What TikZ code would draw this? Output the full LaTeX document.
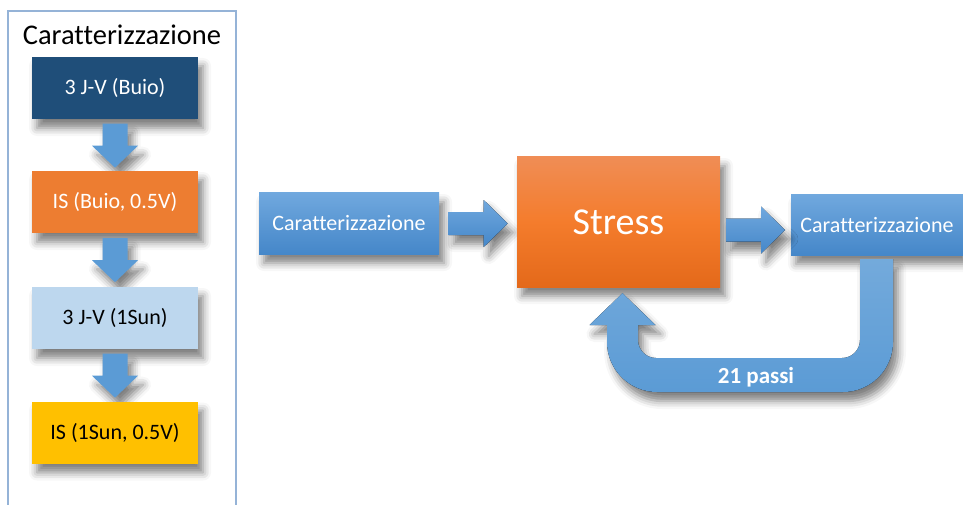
\documentclass[tikz,border=0pt]{standalone}
\usepackage{fontspec}
\setmainfont{Carlito}[Ligatures=NoCommon]
\usetikzlibrary{calc,shadows.blur}

\definecolor{darkblue}{HTML}{1F4E79}
\definecolor{orangebox}{HTML}{ED7D31}
\definecolor{paleblue}{HTML}{BDD7EE}
\definecolor{gold}{HTML}{FFC000}
\definecolor{arrowblue}{HTML}{5B9BD5}
\definecolor{bluetop}{HTML}{70A8DE}
\definecolor{bluebot}{HTML}{4587C9}
\definecolor{stresstop}{HTML}{F08D55}
\definecolor{stressmid}{HTML}{F47C2C}
\definecolor{stressbot}{HTML}{E4691A}
\definecolor{framecol}{HTML}{95B3D7}

\tikzset{
  softshadow/.style={blur shadow={shadow xshift=5pt, shadow yshift=-9pt,
      shadow blur radius=8pt, shadow opacity=50}},
  stepbox/.style={rectangle, inner sep=0pt, minimum width=166pt,
      minimum height=62pt, font=\fontsize{22}{26}\selectfont, softshadow},
  bluebox/.style={rectangle, inner sep=0pt, minimum height=61pt,
      top color=bluetop, bottom color=bluebot, text=white,
      font=\fontsize{22}{26}\selectfont, softshadow},
  % short vertical block arrow, origin at its centre
  varrow/.pic={
    \fill[arrowblue, softshadow] (-12.5,22) -- (12.5,22) -- (12.5,0)
      -- (23,0) -- (0,-22) -- (-23,0) -- (-12.5,0) -- cycle;
  },
  % horizontal block arrow, origin at its centre
  harrow/.pic={
    \fill[top color=bluetop, bottom color=bluebot, softshadow]
      (-29.5,11.5) -- (5.5,11.5) -- (5.5,23.5) -- (29.5,0)
      -- (5.5,-23.5) -- (5.5,-11.5) -- (-29.5,-11.5) -- cycle;
  },
}

\begin{document}
\begin{tikzpicture}[x=1pt,y=1pt]
\useasboundingbox (0,0) rectangle (963,-505);

% left panel: characterisation sequence
\draw[framecol, line width=1.2pt] (8,-515) -- (8,-11) -- (236,-11) -- (236,-515);
\node[font=\fontsize{28.5}{32}\selectfont] (title) at (122,-35) {Caratterizzazione};

% each step is drawn after the arrow leading into it
\node[stepbox, fill=darkblue, text=white] (b1) at (115,-88) {3 J-V (Buio)};
\pic at ($(b1.south)+(0,-26.5)$) {varrow};
\node[stepbox, fill=orangebox, text=white] (b2) at (115,-202) {IS (Buio, 0.5V)};
\pic at ($(b2.south)+(0,-27)$) {varrow};
\node[stepbox, fill=paleblue, text=black] (b3) at (115,-318) {3 J-V (1Sun)};
\pic at ($(b3.south)+(0,-26.5)$) {varrow};
\node[stepbox, fill=gold, text=black] (b4) at (115,-432.5) {IS (1Sun, 0.5V)};

% main flow
\node[bluebox, minimum width=180pt] (c1) at (349,-223.5) {Caratterizzazione};
\pic at ($(c1.east)+(39,0)$) {harrow};
\node[rectangle, inner sep=0pt, minimum width=203pt, minimum height=130pt,
      top color=stresstop, bottom color=stressbot, middle color=stressmid,
      text=white, font=\fontsize{38}{44}\selectfont, softshadow]
      (stress) at (618.5,-222) {Stress};
\node[bluebox, minimum width=172pt, minimum height=60pt] (rc) at (877,-225) {Caratterizzazione};

\pic at ($($(stress.east)!0.5!(rc.west)$)+(0,-6.5)$) {harrow};

% feedback loop arrow from the last characterisation back to the stress
\coordinate (loopstart) at ($(rc.south)+(-0.5,-4)$);
\coordinate (looptip) at ($(stress.south)+(4,-6)$);
\fill[top color=arrowblue!85!white, bottom color=arrowblue, softshadow]
  ($(loopstart)+(16.5,0)$) -- (893,-342)
  arc[start angle=0, end angle=-90, radius=50] -- (657,-392)
  arc[start angle=270, end angle=180, radius=50] -- (607,-325)
  -- (589.5,-325) -- (looptip) -- (655.5,-325) -- (638,-325) -- (638,-340)
  arc[start angle=180, end angle=270, radius=18] -- (842,-358)
  arc[start angle=270, end angle=360, radius=18]
  -- ($(loopstart)+(-16.5,0)$) -- cycle;
\node[text=white, font=\bfseries\fontsize{23}{27}\selectfont] (passi) at (756,-377) {21 passi};
\end{tikzpicture}
\end{document}
